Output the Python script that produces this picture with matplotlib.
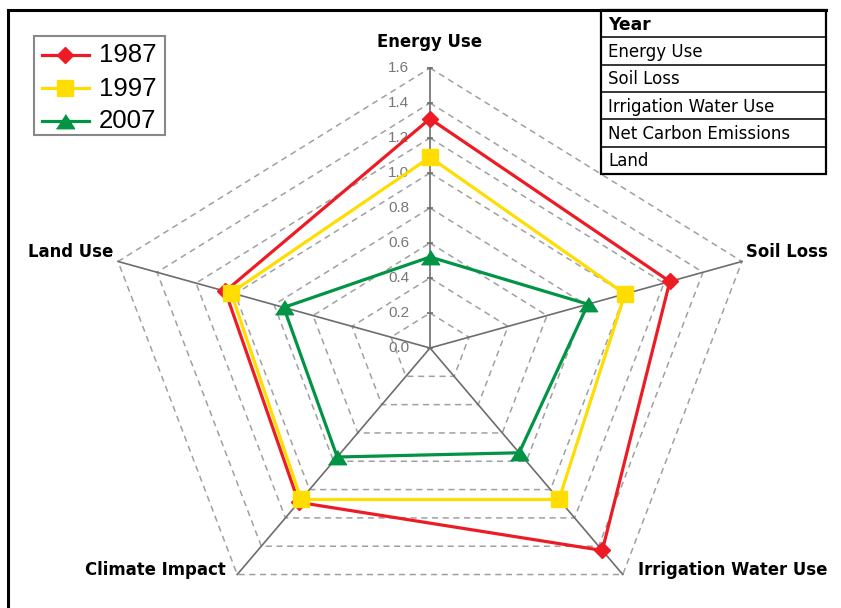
import numpy as np
import matplotlib.pyplot as plt
from matplotlib.lines import Line2D

# -----------------------------
# Data
# -----------------------------
categories = ['Energy Use', 'Soil Loss', 'Irrigation Water Use', 'Climate Impact', 'Land Use']
values_1987 = [1.31, 1.23, 1.43, 1.09, 1.05]
values_1997 = [1.09, 1.00, 1.07, 1.07, 1.02]
values_2007 = [0.52, 0.81, 0.74, 0.77, 0.75]
years = ['1987', '1997', '2007']

levels = [0.2, 0.4, 0.6, 0.8, 1.0, 1.2, 1.4, 1.6]
tick_labels = ['0.0', '0.2', '0.4', '0.6', '0.8', '1.0', '1.2', '1.4', '1.6']

table_rows = ['Year', 'Energy Use', 'Soil Loss', 'Irrigation Water Use',
              'Net Carbon Emissions', 'Land']

# -----------------------------
# Styling
# -----------------------------
colors = ['#ED1C24', '#FFDD00', '#009444']
tri = [(-1, -0.8), (1, -0.8), (0, 0.76)]
markers = ['D', 's', tri]
msizes = [8, 11.5, 13]

W, H = 841, 608
fig = plt.figure(figsize=(W / 100, H / 100), dpi=100)

# radar drawn in cartesian coords, x stretched relative to y
cx, cy = 430, 348          # centre in pixels from top-left
sx, sy = 205, 175          # pixels per unit
ax = fig.add_axes([0, 0, 1, 1])
ax.set_xlim(-cx / sx, (W - cx) / sx)
ax.set_ylim(-(H - cy) / sy, cy / sy)
ax.axis('off')

angles = np.deg2rad(90 - 72 * np.arange(len(categories)))
rmax = levels[-1]


def to_xy(r):
    r = np.asarray(r, dtype=float)
    return r * np.cos(angles), r * np.sin(angles)


# dashed polygon grid
for lv in levels:
    x, y = to_xy([lv] * len(categories))
    ax.plot(np.append(x, x[0]), np.append(y, y[0]), color='#a0a0a0',
            lw=1.1, ls=(0, (4, 3)), zorder=1)

# spokes
for a in angles:
    ax.plot([0, rmax * np.cos(a)], [0, rmax * np.sin(a)], color='#6d6d6d',
            lw=1.2, zorder=2)

# ticks and labels on the top spoke
tick_vals = [0.0] + levels
ax.plot([0] * len(tick_vals), tick_vals, ls='none', marker='_', ms=5,
        mew=1.2, color='#6d6d6d', zorder=2)
for v, lab in zip(tick_vals, tick_labels):
    ax.annotate(lab, (0, v), xytext=(-15, 0), textcoords='offset points',
                ha='right', va='center', fontsize=11, color='#777777',
                family='Liberation Sans')

# axis names around the outside
label_offsets = [(0, 18.5, 'center', 'center'),
                 (3, 7, 'left', 'center'),
                 (11, 3.5, 'left', 'center'),
                 (-8, 3.5, 'right', 'center'),
                 (-3.5, 7, 'right', 'center')]
tx, ty = to_xy([rmax] * len(categories))
for name, x, y, (dx, dy, ha, va) in zip(categories, tx, ty, label_offsets):
    ax.annotate(name, (x, y), xytext=(dx, dy), textcoords='offset points',
                ha=ha, va=va, fontsize=11.9, fontweight='bold',
                family='DejaVu Sans', color='black')

# data series
series = [values_1987, values_1997, values_2007]
for vals, col, mk, ms in zip(series, colors, markers, msizes):
    x, y = to_xy(vals)
    ax.plot(np.append(x, x[0]), np.append(y, y[0]), color=col, lw=2.3,
            zorder=3)
    ax.plot(x, y, ls='none', marker=mk, ms=ms, color=col, mec=col, zorder=4)

# -----------------------------
# Overlay in pixel coords: frame, legend and key table
# -----------------------------
ov = fig.add_axes([0, 0, 1, 1], zorder=5)
ov.set_xlim(0, W)
ov.set_ylim(H, 0)
ov.axis('off')
ov.patch.set_alpha(0)

ov.plot([8, 8], [H + 5, 10], color='black', lw=2.2, solid_capstyle='projecting')
ov.plot([8, 826], [10, 10], color='black', lw=2.2, solid_capstyle='projecting')

# legend box
ov.add_patch(plt.Rectangle((34, 36), 131, 99, fill=True, facecolor='white',
                           edgecolor='#888888', lw=1.5))
for i, (yr, col, mk, ms) in enumerate(zip(years, colors, markers, msizes)):
    yy = 54.5 + i * 33
    ov.add_line(Line2D([42, 89], [yy, yy], color=col, lw=2.3))
    ov.add_line(Line2D([65.5], [yy], ls='none', marker=mk, ms=ms, color=col,
                       mec=col))
    ov.text(99, yy + 1, yr, ha='left', va='center', fontsize=18.5,
            family='Liberation Sans', color='black')

# key table
t_left, t_right, t_top, t_bot = 601, 826, 10, 174
row_h = (t_bot - t_top) / len(table_rows)
ov.add_patch(plt.Rectangle((t_left, t_top), t_right - t_left, t_bot - t_top,
                           fill=True, facecolor='white', edgecolor='black',
                           lw=1.6))
for i, row in enumerate(table_rows):
    y0 = t_top + i * row_h
    if i > 0:
        ov.plot([t_left, t_right], [y0, y0], color='black', lw=1.1)
    ov.text(t_left + 7, y0 + row_h / 2 + 1, row, ha='left', va='center',
            fontsize=12.3 if i == 0 else 12,
            fontweight='bold' if i == 0 else 'normal',
            family='DejaVu Sans', color='black')

fig.savefig('out.png', dpi=100)
